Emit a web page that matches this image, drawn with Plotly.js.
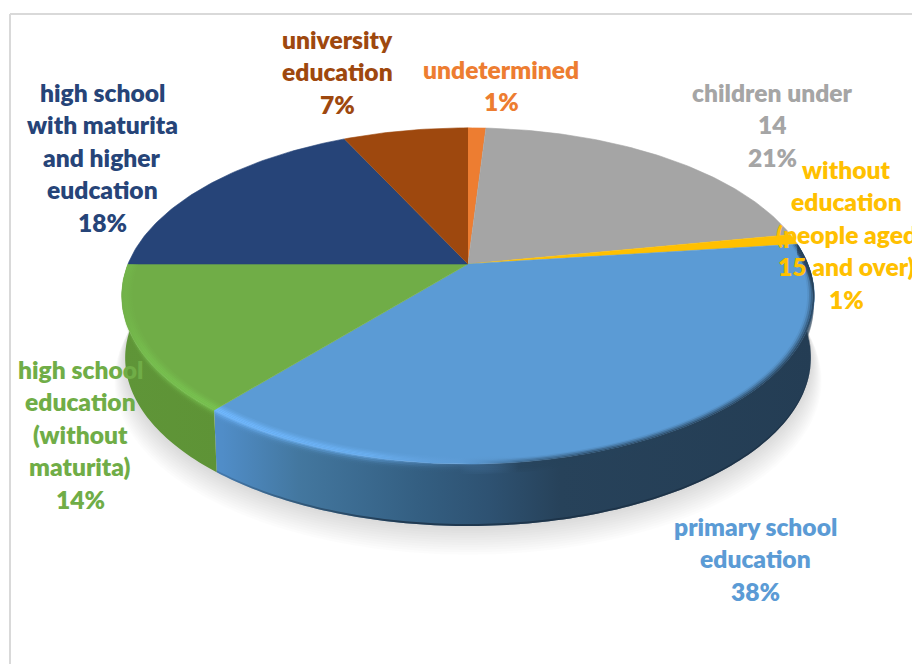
<!DOCTYPE html>
<html>
<head>
<meta charset="utf-8">
<script src="https://cdn.plot.ly/plotly-3.0.1.min.js"></script>
<style>html,body{margin:0;padding:0;background:#fff}#chart{width:912px;height:664px}</style>
</head>
<body>
<div id="chart"></div>
<script>
// Education structure of the population, in percent, clockwise from 12 o'clock
const categories = ["undetermined", "children under 14", "without education (people aged 15 and over)",
  "primary school education", "high school education (without maturita)",
  "high school with maturita and higher eudcation", "university education"];
const shares = [1, 21, 1, 38, 14, 18, 7];
const labelLines = [
  ["undetermined", "1%"],
  ["children under", "14", "21%"],
  ["without", "education", "(people aged", "15 and over)", "1%"],
  ["primary school", "education", "38%"],
  ["high school", "education", "(without", "maturita)", "14%"],
  ["high school", "with maturita", "and higher", "eudcation", "18%"],
  ["university", "education", "7%"]
];

// Presentation settings
const sliceColors = ["#ed7d31", "#a5a5a5", "#ffc000", "#5b9bd5", "#70ad47", "#264478", "#9e480e"];
const labelX = [501, 772, 846, 755, 80, 102, 337];
const labelTop = [69, 92, 169, 526, 369, 92, 39];
const lineStep = 32.5;

// Tilted-disc projection: pixel axes, with the far edge foreshortened
const cx = 468, cy = 264, R = 340, A = 162, k = 0.19, depth = 62;
function project(deg, r, dz) {
  const a = deg * Math.PI / 180, X = r * Math.sin(a), Y = r * Math.cos(a), w = 1 + k * Y;
  const s = 1 - 0.01 * dz / depth;
  return [cx + s * R * X / w, cy - A * Y / w + dz];
}
function arc(t0, t1, r, dz) {
  const n = Math.max(2, Math.ceil(Math.abs(t1 - t0))), out = [];
  for (let i = 0; i <= n; i++) out.push(project(t0 + (t1 - t0) * i / n, r, dz));
  return out;
}
function polyTrace(pts, style) {
  return Object.assign({
    type: "scatter", mode: "none", fill: "toself", hoverinfo: "skip",
    x: pts.map(p => p[0]), y: pts.map(p => p[1])
  }, style);
}
function band(t0, t1, r0, dz0, r1, dz1, stops, start, stop) {
  const pts = arc(t0, t1, r0, dz0).concat(arc(t1, t0, r1, dz1));
  return polyTrace(pts, { fillgradient: { type: "horizontal", start: start, stop: stop, colorscale: stops } });
}

// Cumulative slice angles
const edges = [0];
shares.forEach(v => edges.push(edges[edges.length - 1] + v * 3.6));

const traces = [];

// Soft ground shadow under the disc
for (let i = 1; i <= 12; i++) {
  traces.push(polyTrace(arc(70, 290, 1 + i * 0.0028, depth + i * 1.7).concat(arc(290, 70, 0.9, depth)),
    { fillcolor: "rgba(0,0,0,0.011)" }));
}

// Side wall of the two front slices
const blue = 3, green = 4;
const blueStart = 222, blueStop = 815, greenStart = 120, greenStop = 225;
traces.push(band(edges[blue], edges[blue + 1], 1, 0, 1, depth, [
  [0, "#508dc8"], [0.13, "#43779f"], [0.33, "#345f82"], [0.45, "#2e5272"], [0.57, "#27425a"], [1, "#243d54"]
], blueStart, blueStop));
traces.push(band(edges[green], edges[green + 1], 1, 0, 1, depth, [
  [0, "#5f9538"], [1, "#5e9336"]
], greenStart, greenStop));
traces.push(band(edges[blue], edges[blue + 1], 1, depth - 2, 1, depth, [
  [0, "rgba(40,70,100,0.3)"], [0.3, "rgba(25,45,65,0.75)"], [1, "rgba(25,45,65,0.6)"]
], blueStart, blueStop));

// Flat top of every slice
shares.forEach((v, i) => {
  const pts = [[cx, cy]].concat(arc(edges[i], edges[i + 1], 1, 0));
  traces.push(polyTrace(pts, {
    fillcolor: sliceColors[i], mode: "lines",
    line: { color: sliceColors[i], width: 0.6 }
  }));
});

// Rounded rim, built from thin layers: u runs from the face (-1) over the edge (0) down the wall (+1).
// A bright ridge on the lit side turns into a soft shade on the far side.
function smooth(a, b, u) {
  const t = Math.min(1, Math.max(0, (u - a) / (b - a)));
  return t * t * (3 - 2 * t);
}
const rimSteps = 12;
for (let i = 0; i < rimSteps; i++) {
  const u0 = -1 + 2 * i / rimSteps, u1 = -1 + 2 * (i + 1) / rimSteps, u = (u0 + u1) / 2;
  const r0 = u0 < 0 ? 1 + u0 * 0.03 : 1, d0 = u0 > 0 ? u0 * 10 : 0;
  const r1 = u1 < 0 ? 1 + u1 * 0.03 : 1, d1 = u1 > 0 ? u1 * 10 : 0;
  const ridge = Math.exp(-Math.pow(u + 0.22, 2) / (2 * 0.36 * 0.36));
  const shade = smooth(-0.75, 0.15, u) * (1 - smooth(0.5, 1, u) * 0.6);
  const fmt = a => a.toFixed(3);
  traces.push(band(edges[blue], edges[blue + 1], r0, d0, r1, d1, [
    [0, `rgba(112,184,255,${fmt(ridge)})`],
    [0.25, `rgba(108,178,245,${fmt(ridge * 0.85)})`],
    [0.4, `rgba(100,160,220,${fmt(ridge * 0.25)})`],
    [0.5, `rgba(38,66,90,${fmt(shade * 0.6)})`],
    [0.62, `rgba(38,66,90,${fmt(shade)})`],
    [1, `rgba(36,61,84,${fmt(shade)})`]
  ], blueStart, blueStop));
  traces.push(band(edges[green], edges[green + 1], r0, d0, r1, d1, [
    [0, `rgba(120,195,80,${fmt(ridge * 0.15)})`],
    [0.25, `rgba(120,195,80,${fmt(ridge * 0.75)})`],
    [1, `rgba(120,195,80,${fmt(ridge)})`]
  ], greenStart, greenStop));
}

// Data labels, one annotation per line so the leading stays even
const annotations = [];
labelLines.forEach((lines, i) => {
  lines.forEach((text, j) => {
    annotations.push({
      xref: "x", yref: "y", x: labelX[i], y: labelTop[i] + j * lineStep,
      text: text, showarrow: false, xanchor: "center", yanchor: "middle",
      font: { family: "Lato, 'Open Sans', sans-serif", size: 24.6, weight: 800, color: sliceColors[i] }
    });
  });
});

const frameColor = "#d9d9d9";
const layout = {
  width: 912, height: 664,
  margin: { l: 0, r: 0, t: 0, b: 0 },
  paper_bgcolor: "#fff", plot_bgcolor: "#fff",
  showlegend: false,
  xaxis: { range: [0, 912], visible: false, fixedrange: true },
  yaxis: { range: [664, 0], visible: false, fixedrange: true },
  annotations: annotations,
  shapes: [
    { type: "line", xref: "x", yref: "y", x0: 10, y0: 14, x1: 912, y1: 14, line: { color: frameColor, width: 2 }, layer: "below" },
    { type: "line", xref: "x", yref: "y", x0: 10, y0: 14, x1: 10, y1: 664, line: { color: frameColor, width: 2 }, layer: "below" }
  ]
};
Plotly.newPlot("chart", traces, layout, { displayModeBar: false, staticPlot: true });
</script>
</body>
</html>
